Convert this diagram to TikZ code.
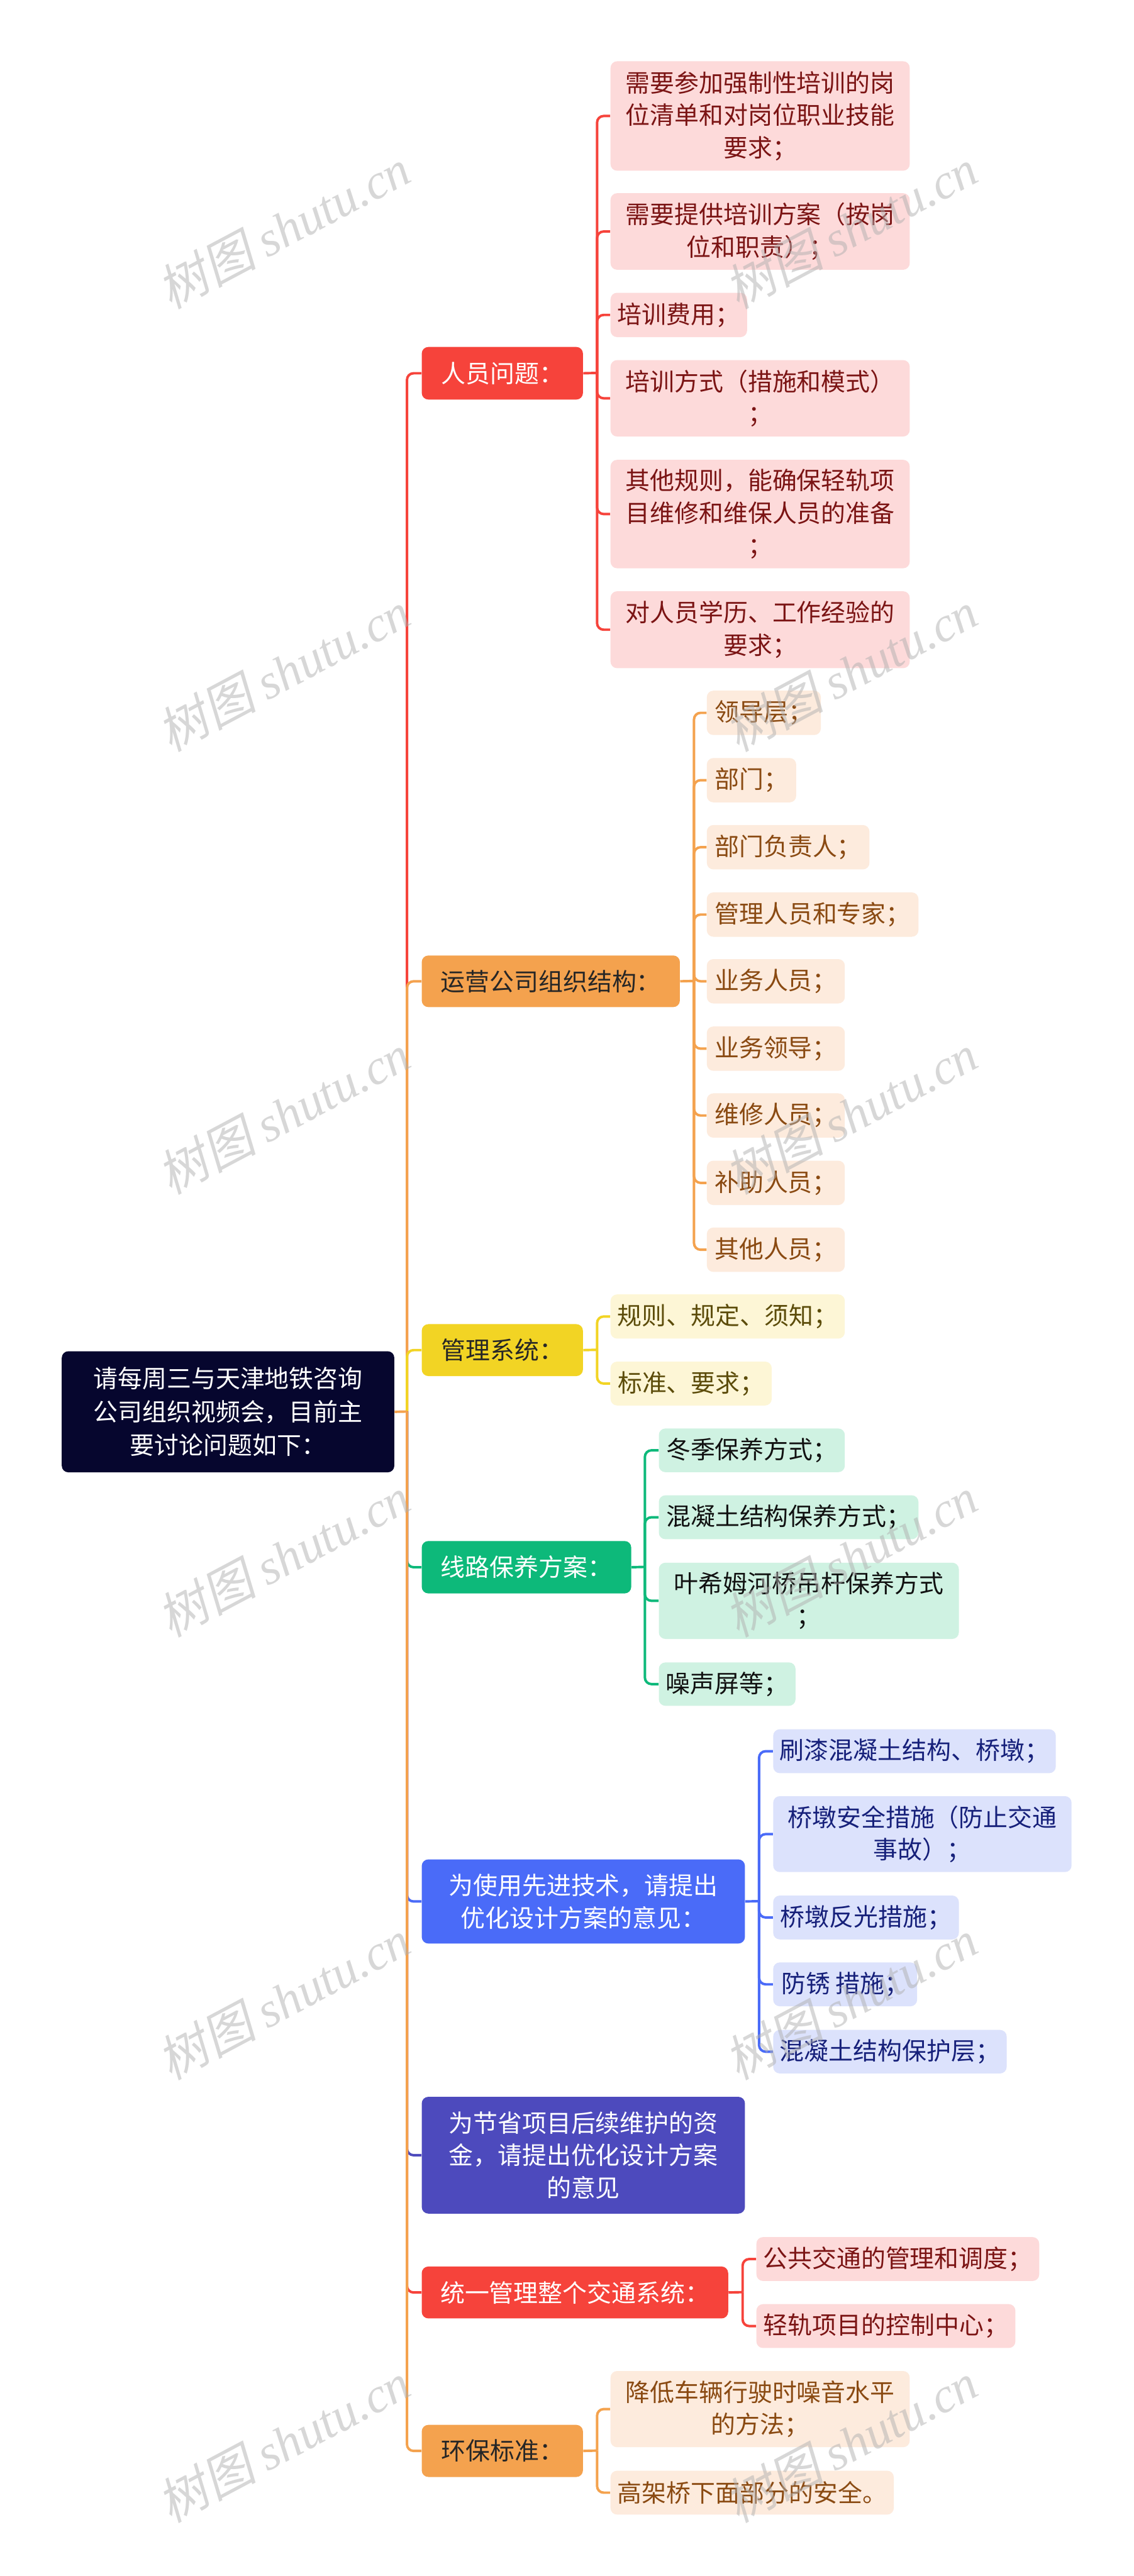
\documentclass[tikz,border=0pt]{standalone}
\usepackage{fontspec}
\setmainfont{Noto Sans CJK SC}
\newfontfamily\wmcjk[FakeSlant=0.2]{Noto Sans CJK SC}
\newfontfamily\wmlat{Liberation Serif}
\definecolor{rootF}{HTML}{06062E}
\definecolor{cRed}{HTML}{F6433B}
\definecolor{cOrange}{HTML}{F4A24E}
\definecolor{cYellow}{HTML}{F2D424}
\definecolor{cGreen}{HTML}{0DB97A}
\definecolor{cBlue}{HTML}{4A6BF8}
\definecolor{cIndigo}{HTML}{4D4ABD}
\definecolor{darkT}{HTML}{262626}
\definecolor{pinkF}{HTML}{FDDADA}
\definecolor{redT}{HTML}{7B1414}
\definecolor{peachF}{HTML}{FDEBDD}
\definecolor{brownT}{HTML}{8A4A12}
\definecolor{yelF}{HTML}{FDF6D6}
\definecolor{oliveT}{HTML}{5C4C0A}
\definecolor{greenF}{HTML}{CFF2E2}
\definecolor{greenT}{HTML}{111111}
\definecolor{blueF}{HTML}{DCE2FC}
\definecolor{navyT}{HTML}{16207A}
\definecolor{wmGray}{HTML}{B0B0B0}
\begin{document}
\begin{tikzpicture}[x=1pt,y=-1pt,
  every node/.style={inner sep=0pt, rounded corners=4pt, align=center, anchor=north west},
  sz/.style 2 args={minimum width=#1pt, minimum height=#2pt},
  lf/.style={font=\fontsize{14.9}{19.8}\selectfont},
  leafR/.style={lf, fill=pinkF, text=redT},
  leafO/.style={lf, fill=peachF, text=brownT},
  leafY/.style={lf, fill=yelF, text=oliveT},
  leafG/.style={lf, fill=greenF, text=greenT},
  leafB/.style={lf, fill=blueF, text=navyT},
  br/.style={font=\fontsize{14.9}{19.8}\selectfont},
  conn/.style={line width=1.5pt, rounded corners=4pt},
  wm/.style={anchor=center, rotate=28, text=wmGray, text opacity=0.5, font=\fontsize{30}{30}\selectfont},
]
\fill[white] (0,0) rectangle (690,1568);
\useasboundingbox (0,0) rectangle (690,1568);

% root
\node[fill=rootF, text=white, font=\fontsize{14.9}{20.3}\selectfont, sz={202.4}{73.7}] (root) at (37.4,822.3) {请每周三与天津地铁咨询\\公司组织视频会，目前主\\要讨论问题如下：};

% branches
\node[br, fill=cRed, text=white, sz={98.1}{32}] (b1) at (256.5,211) {人员问题：};
\node[br, fill=cOrange, text=darkT, sz={157.1}{31.4}] (b2) at (256.5,581.4) {运营公司组织结构：};
\node[br, fill=cYellow, text=darkT, sz={98.1}{31.6}] (b3) at (256.5,805.8) {管理系统：};
\node[br, fill=cGreen, text=white, sz={127.5}{31.9}] (b4) at (256.5,937.8) {线路保养方案：};
\node[br, fill=cBlue, text=white, sz={196.7}{51.2}] (b5) at (256.5,1131.6) {为使用先进技术，请提出\\优化设计方案的意见：};
\node[br, fill=cIndigo, text=white, sz={196.7}{71.1}] (b6) at (256.5,1276.1) {为节省项目后续维护的资\\金，请提出优化设计方案\\的意见};
\node[br, fill=cRed, text=white, sz={186.5}{31.6}] (b7) at (256.5,1379.4) {统一管理整个交通系统：};
\node[br, fill=cOrange, text=darkT, sz={98.1}{31.7}] (b8) at (256.5,1475.8) {环保标准：};

% leaves of b1
\node[leafR, sz={182.1}{66.6}] (l11) at (371.4,37.1) {需要参加强制性培训的岗\\位清单和对岗位职业技能\\要求；};
\node[leafR, sz={182.1}{46.6}] (l12) at (371.4,117.4) {需要提供培训方案（按岗\\位和职责）；};
\node[leafR, sz={83.1}{27}] (l13) at (371.4,178) {培训费用；};
\node[leafR, sz={182.1}{46.5}] (l14) at (371.4,219) {培训方式（措施和模式）\\；};
\node[leafR, sz={182.1}{66}] (l15) at (371.4,279.7) {其他规则，能确保轻轨项\\目维修和维保人员的准备\\；};
\node[leafR, sz={182.1}{46.8}] (l16) at (371.4,359.7) {对人员学历、工作经验的\\要求；};

% leaves of b2
\node[leafO, sz={69.4}{27}] (l21) at (430,420.2) {领导层；};
\node[leafO, sz={54.4}{27}] (l22) at (430,461.2) {部门；};
\node[leafO, sz={99}{27}] (l23) at (430,502) {部门负责人；};
\node[leafO, sz={128.8}{27}] (l24) at (430,543) {管理人员和专家；};
\node[leafO, sz={84}{27}] (l25) at (430,583.6) {业务人员；};
\node[leafO, sz={84}{27}] (l26) at (430,624.6) {业务领导；};
\node[leafO, sz={84}{27}] (l27) at (430,665.3) {维修人员；};
\node[leafO, sz={84}{27}] (l28) at (430,706.3) {补助人员；};
\node[leafO, sz={84}{27}] (l29) at (430,747) {其他人员；};

% leaves of b3
\node[leafY, sz={142.6}{26.9}] (l31) at (371.4,787.7) {规则、规定、须知；};
\node[leafY, sz={98.1}{26.7}] (l32) at (371.4,828.6) {标准、要求；};

% leaves of b4
\node[leafG, sz={113.2}{26.6}] (l41) at (400.8,869.3) {冬季保养方式；};
\node[leafG, sz={158}{26.7}] (l42) at (400.8,910) {混凝土结构保养方式；};
\node[leafG, sz={182.6}{46.4}] (l43) at (400.8,951) {叶希姆河桥吊杆保养方式\\；};
\node[leafG, sz={83.2}{26.4}] (l44) at (400.8,1011.7) {噪声屏等；};

% leaves of b5
\node[leafB, sz={172}{26.7}] (l51) at (470.4,1052.4) {刷漆混凝土结构、桥墩；};
\node[leafB, sz={181.6}{46.2}] (l52) at (470.4,1093.1) {桥墩安全措施（防止交通\\事故）；};
\node[leafB, sz={113}{26.7}] (l53) at (470.4,1153.6) {桥墩反光措施；};
\node[leafB, sz={87.6}{26.7}] (l54) at (470.4,1194.3) {防锈 措施；};
\node[leafB, sz={142.1}{26.5}] (l55) at (470.4,1235.4) {混凝土结构保护层；};

% leaves of b7
\node[leafR, sz={172.1}{26.7}] (l71) at (460.2,1361.5) {公共交通的管理和调度；};
\node[leafR, sz={157.6}{26.7}] (l72) at (460.2,1402.3) {轻轨项目的控制中心；};

% leaves of b8
\node[leafO, sz={182.1}{46.4}] (l81) at (371.4,1443) {降低车辆行驶时噪音水平\\的方法；};
\node[leafO, sz={172.4}{26.7}] (l82) at (371.4,1503.7) {高架桥下面部分的安全。};

% main trunk
\coordinate (T) at (247.7,859.2);
\draw[conn, cRed] (T) |- (b1.west);
\draw[conn, cOrange] (T) |- (b2.west);
\draw[conn, cYellow] (T) |- (b3.west);
\draw[conn, cGreen] (T) |- (b4.west);
\draw[conn, cBlue] (T) |- (b5.west);
\draw[conn, cIndigo] (T) |- (b6.west);
\draw[conn, cRed] (T) |- (b7.west);
\draw[conn, cOrange] (T) |- (b8.west);
\draw[conn, cOrange] (root.east) -- (T);

% sub trunks
\coordinate (s1) at (363.4,227);
\coordinate (s2) at (422.4,597.1);
\coordinate (s3) at (363.4,821.6);
\coordinate (s4) at (392.5,953.75);
\coordinate (s5) at (462,1157.2);
\coordinate (s7) at (452,1395.2);
\coordinate (s8) at (363.4,1491.65);

\draw[conn, cRed] (b1.east) -- (s1);
\foreach \n in {l11,l12,l13,l14,l15,l16} \draw[conn, cRed] (s1) |- (\n.west);
\draw[conn, cOrange] (b2.east) -- (s2);
\foreach \n in {l21,l22,l23,l24,l25,l26,l27,l28,l29} \draw[conn, cOrange] (s2) |- (\n.west);
\draw[conn, cYellow] (b3.east) -- (s3);
\foreach \n in {l31,l32} \draw[conn, cYellow] (s3) |- (\n.west);
\draw[conn, cGreen] (b4.east) -- (s4);
\foreach \n in {l41,l42,l43,l44} \draw[conn, cGreen] (s4) |- (\n.west);
\draw[conn, cBlue] (b5.east) -- (s5);
\foreach \n in {l51,l52,l53,l54,l55} \draw[conn, cBlue] (s5) |- (\n.west);
\draw[conn, cRed] (b7.east) -- (s7);
\foreach \n in {l71,l72} \draw[conn, cRed] (s7) |- (\n.west);
\draw[conn, cOrange] (b8.east) -- (s8);
\foreach \n in {l81,l82} \draw[conn, cOrange] (s8) |- (\n.west);

% watermarks
\foreach \y [count=\i] in {139,408.5,678,947.5,1217,1486.5} {
  \node[wm] (wl\i) at (172.7,\y) {{\wmcjk 树图} {\wmlat\itshape shutu.cn}};
  \node[wm] (wr\i) at (518,\y) {{\wmcjk 树图} {\wmlat\itshape shutu.cn}};
}
\end{tikzpicture}
\end{document}
